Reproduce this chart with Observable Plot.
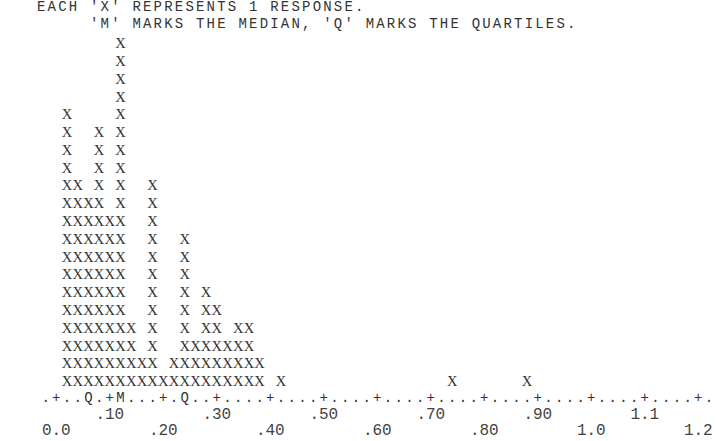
<!DOCTYPE html>
<html>
<head>
<meta charset="utf-8">
<script src="https://cdn.jsdelivr.net/npm/d3@7"></script>
<script src="https://cdn.jsdelivr.net/npm/@observablehq/plot@0.6"></script>
<style>
  html, body { margin: 0; padding: 0; background: #fff; }
  #chart { position: relative; width: 717px; height: 441px; overflow: hidden; }
  #chart svg { position: absolute; left: 0; top: 0; overflow: visible; }
  .note {
    position: absolute; left: 37px; top: -1px; margin: 0;
    font: 14px/16.6px "Liberation Mono", monospace;
    letter-spacing: 2.2px; color: #333; white-space: pre;
  }
</style>
</head>
<body>
<div id="chart">
  <pre class="note">EACH 'X' REPRESENTS 1 RESPONSE.
     'M' MARKS THE MEDIAN, 'Q' MARKS THE QUARTILES.</pre>
</div>
<script>
// Character dot plot: one column per 0.02 interval, one 'X' per response.
const binValues = [0.02, 0.04, 0.06, 0.08, 0.10, 0.12, 0.14, 0.16, 0.18, 0.20,
                   0.22, 0.24, 0.26, 0.28, 0.30, 0.32, 0.34, 0.36, 0.38, 0.42,
                   0.74, 0.88];
const binCounts = [16, 12, 11, 15, 10, 20, 4, 2, 12, 1,
                   2, 9, 3, 6, 5, 3, 4, 4, 2, 1,
                   1, 1];

// Axis tick values and their printed labels.
const tickValues = [0, 0.1, 0.2, 0.3, 0.4, 0.5, 0.6, 0.7, 0.8, 0.9, 1.0, 1.1, 1.2];
const tickLabels = ["0.0", ".10", ".20", ".30", ".40", ".50", ".60", ".70", ".80", ".90", "1.0", "1.1", "1.2"];

const step = 0.02;

// One record per response, stacked upward within its column.
const dots = [];
binValues.forEach((v, i) => {
  for (let r = 1; r <= binCounts[i]; ++r) dots.push({value: v, row: r});
});

// Median and quartiles of all responses.
const sorted = dots.map(d => d.value).sort(d3.ascending);
const q1 = Math.round(d3.quantileSorted(sorted, 0.25) / step);
const med = Math.round(d3.quantileSorted(sorted, 0.5) / step);
const q3 = Math.round(d3.quantileSorted(sorted, 0.75) / step);

// The printed axis line: '+' at each tick, 'Q'/'M' at quartiles/median, '.' elsewhere.
const axisLine = d3.range(-1, 62).map(k => {
  let ch = ".";
  if (k === med) ch = "M";
  else if (k === q1 || k === q3) ch = "Q";
  else if (k % 5 === 0) ch = "+";
  return {value: k * step, ch};
});

const ticks = tickValues.map((v, i) => ({value: v, label: tickLabels[i], upper: i % 2 === 1}));

const mono = "Liberation Mono, monospace";
const serif = "Liberation Serif, serif";
const ink = "#333";

const chart = Plot.plot({
  width: 717,
  height: 441,
  marginLeft: 55.8,
  marginRight: 19.2,
  marginTop: 43,
  marginBottom: 60,
  style: {background: "transparent"},
  x: {domain: [0, 1.2], axis: null},
  y: {domain: [1, 20], axis: null},
  marks: [
    Plot.text(dots, {x: "value", y: "row", text: () => "X",
      fontFamily: serif, fontSize: 14.5, fill: ink, lineAnchor: "middle"}),
    Plot.text(axisLine, {x: "value", text: "ch", frameAnchor: "bottom", dy: 16,
      fontFamily: mono, fontSize: 14, fill: ink, lineAnchor: "middle"}),
    Plot.text(ticks.filter(d => d.upper), {x: "value", text: "label", frameAnchor: "bottom", dy: 32,
      fontFamily: mono, fontSize: 16, fill: "#444", lineAnchor: "middle"}),
    Plot.text(ticks.filter(d => !d.upper), {x: "value", text: "label", frameAnchor: "bottom", dy: 48,
      fontFamily: mono, fontSize: 16, fill: "#444", lineAnchor: "middle"})
  ]
});

document.getElementById("chart").prepend(chart);
</script>
</body>
</html>
